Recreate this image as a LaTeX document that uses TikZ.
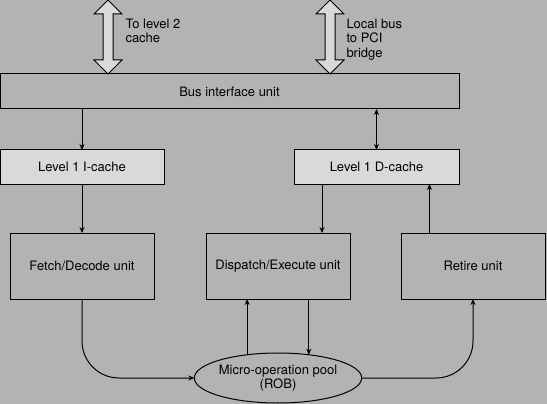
\documentclass[tikz,border=0pt]{standalone}
\usepackage{fontspec}
\setmainfont{TeX Gyre Heros}
\usetikzlibrary{positioning}
\usetikzlibrary{arrows.meta}
\usetikzlibrary{shapes.geometric}

\definecolor{bggray}{RGB}{179,179,179}
\definecolor{cachegray}{RGB}{217,217,217}

\tikzset{
    unit/.style={draw, rectangle, minimum width=144pt, minimum height=66pt,
        inner sep=0, outer sep=0},
    cache/.style={draw, rectangle, fill=cachegray, minimum height=34pt,
        inner sep=0, outer sep=0},
    fatarrow/.style={draw, fill=cachegray, line join=miter},
    busnote/.style={anchor=north west, inner sep=0, align=left},
}

\begin{document}
\begin{tikzpicture}[x=1pt, y=-1pt, line width=1pt,
    >={Stealth[length=6pt,width=5pt]},
    font=\fontsize{13}{14.5}\selectfont]
    \useasboundingbox (0,0) rectangle (547,404);
    \fill[bggray] (0,0) rectangle (547,404);

    \node (bus)[draw, minimum width=459pt, minimum height=35pt, outer sep=0] at (229.5,91.5) {Bus interface unit};
    \node (icache)[cache, minimum width=164pt, below right = 41pt and 0pt of bus.south west] {Level 1 I-cache};
    \node (dcache)[cache, minimum width=165pt, below left = 41pt and 0pt of bus.south east] {Level 1 D-cache};
    \node (fetch)[unit, below = 49pt of icache] {Fetch/Decode unit};
    \node (dispatch)[unit, right = 52pt of fetch] {Dispatch/Execute unit};
    \node (retire)[unit, right = 51pt of dispatch] {Retire unit};
    \node (rob)[draw, ellipse, minimum width=162pt, minimum height=50pt, inner sep=0, outer sep=0,
        align=center, below = 54pt of dispatch] {Micro-operation pool\\(ROB)};

    % wide buses leaving the chip
    \coordinate (l2) at (108,0);
    \coordinate (pci) at (330,0);
    \draw[fatarrow] (l2) -- ++(14,14) -- ++(-9,0) -- ++(0,46) -- ++(9,0) -- (bus.north -| l2)
        -- ++(-14,-14) -- ++(9,0) -- ++(0,-46) -- ++(-9,0) -- cycle;
    \draw[fatarrow] (pci) -- ++(14,14) -- ++(-9,0) -- ++(0,46) -- ++(9,0) -- (bus.north -| pci)
        -- ++(-14,-14) -- ++(9,0) -- ++(0,-46) -- ++(-9,0) -- cycle;
    \node (l2txt)[busnote] at (125,18.5) {To level 2\\cache};
    \node (pcitxt)[busnote] at (346,18.5) {Local bus\\to PCI\\bridge};

    \coordinate (dtop) at ([xshift=44pt]dispatch.north);
    \coordinate (rtop) at ([xshift=-43.5pt]retire.north);

    \draw[->] (bus.south -| icache.north) -- (icache.north);
    \draw[<->] (bus.south -| dcache.north) -- (dcache.north);
    \draw[->] (icache) -- (fetch);
    \draw[->] (dcache.south -| dtop) -- (dtop);
    \draw[->] (rtop) -- (rtop |- dcache.south);
    \draw[->] (rob.143) -- (rob.143 |- dispatch.south);
    \draw[->] (rob.37 |- dispatch.south) -- (rob.37);
    \draw[->, rounded corners=37pt] (fetch.south) |- (rob.west);
    \draw[->, rounded corners=37pt] (rob.east) -| (retire.south);
\end{tikzpicture}
\end{document}
